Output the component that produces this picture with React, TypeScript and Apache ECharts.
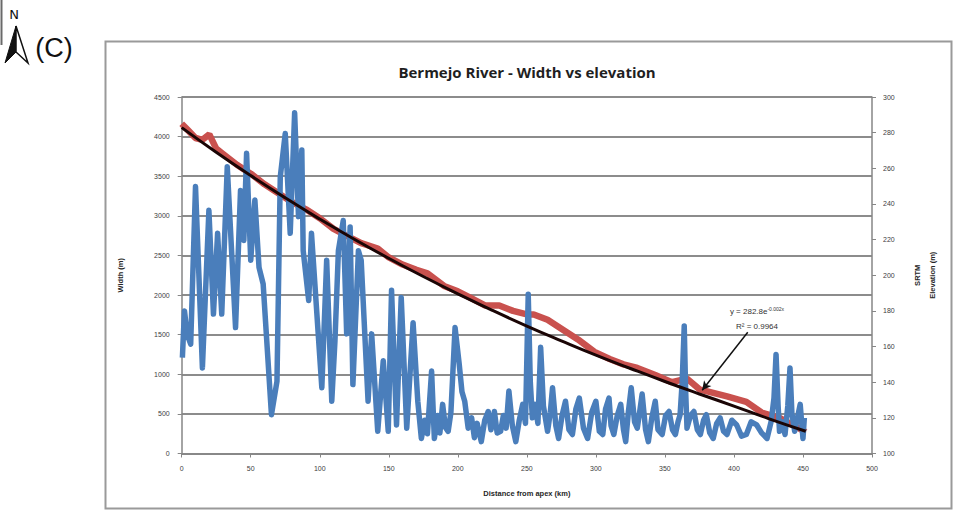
import React, { useEffect, useRef } from "react";
import * as echarts from "echarts";

// Width series (blue): [distance from apex (km), channel width (m)]
const widthPoints: number[][] = [
  [0.5, 1210], [2, 1800], [4, 1500], [6.5, 1380], [10, 3370], [15, 1080], [19.7, 3070], [23, 1760], [26, 2780], [29, 1760],
  [33, 3620], [39, 1590], [42.6, 3320], [45, 2690], [47, 3790], [50, 2440], [53, 3200], [56, 2350], [59, 2140], [65, 490],
  [69, 910], [71.4, 3490], [75, 4040], [78.6, 2780], [81.8, 4300], [84.6, 2990], [87, 3830], [88, 2560], [92, 1930], [94, 2780],
  [101.5, 830], [105, 2440], [108.7, 660], [111, 1420], [113.5, 2560], [117, 2940], [119.5, 1510], [122, 2860], [124, 870], [128, 2560],
  [130, 2440], [135, 660], [137.6, 1510], [142, 280], [146, 1170], [149.6, 280], [152, 2060], [155.6, 360], [159, 1970], [163, 320],
  [167.6, 1650], [171, 660], [173.6, 190], [176, 420], [178, 250], [181, 1040], [183, 190], [185.5, 480], [187, 260], [189, 620],
  [191, 330], [193, 280], [195, 520], [198, 1590], [201, 1130], [203, 780], [205, 660], [207.5, 320], [210, 450], [212, 200],
  [214, 380], [217, 150], [219.5, 420], [222, 530], [224, 300], [226.5, 530], [228.5, 260], [231, 280], [233, 480], [235, 320],
  [237, 790], [239.5, 350], [242, 150], [244.5, 420], [247, 620], [249, 380], [251, 2010], [252.5, 900], [254, 450], [256, 620],
  [258, 380], [260, 1340], [262, 600], [265, 280], [267, 520], [268.6, 830], [271, 350], [273, 190], [275.5, 480], [278, 660],
  [280.5, 300], [283, 240], [285.5, 560], [288, 700], [291, 320], [294, 190], [297, 520], [300, 660], [302.5, 280], [305, 240],
  [307, 560], [309.5, 700], [311, 350], [313, 240], [315.5, 480], [318, 620], [320, 300], [321.6, 150], [323.5, 520], [325.6, 830],
  [328, 400], [330, 320], [332, 560], [333.5, 750], [336, 300], [338, 150], [340.5, 450], [343, 660], [345, 300], [348, 240],
  [350.5, 480], [353, 530], [355.5, 300], [357.6, 240], [359.5, 400], [361, 490], [362.5, 900], [364, 1610], [365, 800], [366, 320],
  [368.5, 480], [371, 530], [373.5, 300], [375.7, 240], [378, 420], [380, 490], [382.5, 260], [385, 190], [387.5, 380], [390, 450],
  [392.5, 280], [395, 240], [398.5, 420], [402, 360], [405.5, 220], [409, 240], [412.5, 400], [416.5, 360], [420, 260], [424, 190],
  [427, 410], [429, 700], [430.5, 1250], [432, 600], [433, 280], [435, 400], [437, 240], [439, 600], [440.6, 1080], [442, 500],
  [444, 280], [446, 450], [448, 620], [450, 190], [451, 450],
];

// SRTM elevation series (red)
const elevKm = [0, 5, 10, 15, 20, 25, 30, 40, 50, 60, 70, 80, 90, 100, 110, 120, 130, 142, 150, 160, 170, 178, 190, 200, 210, 220, 230, 240, 250, 255, 265, 275, 287, 299, 310, 320, 330, 343, 355, 366, 375, 385, 395, 409, 420, 433, 445, 452];
const elevM = [285, 281, 277, 276, 279, 271, 268, 262, 257, 251, 246, 241, 237, 232, 226, 222, 218, 215, 210, 206, 203, 201, 194, 191, 187, 183, 183, 180, 178, 178, 175, 170, 164, 157, 153, 150, 148, 144, 140, 142, 136, 134, 132, 129, 123, 120, 115, 112];

// Exponential trend line (black)
const trendKm = [0, 25, 50, 75, 100, 125, 150, 175, 200, 225, 250, 275, 300, 325, 350, 375, 400, 425, 452];
const trendM = [282.8, 269, 255.9, 243.4, 231.5, 220.2, 209.5, 199.3, 189.6, 180.3, 171.5, 163.2, 155.2, 147.7, 140.4, 133.4, 126.6, 119.6, 112.5];

// Axis ticks
const xTicks = { min: 0, max: 500, interval: 50 };
const yLeftTicks = { min: 0, max: 4500, interval: 500 };
const yRightTicks = { min: 100, max: 300, interval: 20 };

const equationText = "282.8";
const r2Text = "R² = 0.9964";

export default function App() {
  const ref = useRef<HTMLDivElement>(null);
  useEffect(() => {
    document.body.style.margin = "0";
    const chart = echarts.init(ref.current!, null, { renderer: "svg" });
    const axisColor = "#868686";
    const labelStyle = { fontSize: 7, color: "#404040", fontFamily: "Liberation Sans", formatter: (v: number) => String(v) };
    const nameStyle = { fontSize: 7.5, color: "#262626", fontWeight: "bold" as const, fontFamily: "Liberation Sans" };
    const option: any = {
      animation: false,
      backgroundColor: "#ffffff",
      grid: { left: 181.7, right: 87, top: 97, bottom: 58.5 },
      xAxis: {
        type: "value",
        ...xTicks,
        name: "Distance from apex (km)",
        nameLocation: "middle",
        nameGap: 36,
        nameTextStyle: nameStyle,
        axisLine: { show: true, lineStyle: { color: axisColor, width: 1.5 } },
        axisTick: { show: true, length: 4, lineStyle: { color: axisColor } },
        axisLabel: { ...labelStyle, margin: 11 },
        splitLine: { show: false },
      },
      yAxis: [
        {
          type: "value",
          ...yLeftTicks,
          name: "Width (m)",
          nameLocation: "middle",
          nameGap: 57,
          nameRotate: 90,
          nameTextStyle: nameStyle,
          axisLine: { show: true, lineStyle: { color: axisColor, width: 1.5 } },
          axisTick: { show: true, length: 4, lineStyle: { color: axisColor } },
          axisLabel: { ...labelStyle, margin: 12 },
          splitLine: { show: true, lineStyle: { color: "#8c8c8c", width: 2 } },
        },
        {
          type: "value",
          position: "right",
          ...yRightTicks,
          name: "SRTM\nElevation (m)",
          nameLocation: "middle",
          nameGap: 38,
          nameRotate: 90,
          nameTextStyle: { ...nameStyle, lineHeight: 15 },
          axisLine: { show: true, lineStyle: { color: axisColor, width: 1.5 } },
          axisTick: { show: true, length: 4, lineStyle: { color: axisColor } },
          axisLabel: { ...labelStyle, margin: 11 },
          splitLine: { show: false },
        },
      ],
      series: [
        {
          type: "line",
          name: "SRTM elevation",
          yAxisIndex: 1,
          data: elevKm.map((k, i) => [k, elevM[i]]),
          showSymbol: false,
          lineStyle: { color: "#c9514e", width: 6.5 },
          z: 2,
        },
        {
          type: "line",
          name: "Width",
          yAxisIndex: 0,
          data: widthPoints,
          showSymbol: false,
          lineStyle: { color: "#4a7ebb", width: 5.5, join: "round" },
          z: 3,
        },
        {
          type: "line",
          name: "Trend",
          yAxisIndex: 1,
          data: trendKm.map((k, i) => [k, trendM[i]]),
          smooth: true,
          showSymbol: false,
          lineStyle: { color: "#1a0505", width: 3 },
          z: 4,
          markLine: {
            silent: true,
            symbol: ["none", "arrow"],
            symbolSize: [7, 9],
            label: { show: false },
            lineStyle: { color: "#111", width: 1.5, type: "solid" },
            data: [[{ coord: [410, 168] }, { coord: [377, 135.5] }]],
          },
        },
      ],
      graphic: [
        {
          type: "rect",
          shape: { x: 105.5, y: 41.5, width: 846, height: 467 },
          style: { fill: "none", stroke: "#9a9a9a", lineWidth: 2 },
          z: 0,
        },
        {
          type: "line",
          shape: { x1: 1.5, y1: 0, x2: 1.5, y2: 45 },
          style: { stroke: "#6a6a6a", lineWidth: 2 },
        },
        {
          type: "text",
          x: 527,
          y: 72,
          style: {
            text: "Bermejo River - Width vs elevation",
            fontSize: 15,
            fontWeight: "bold",
            fontFamily: "Open Sans",
            fill: "#1f1f1f",
            textAlign: "center",
            textVerticalAlign: "middle",
          },
        },
        {
          type: "text",
          x: 757,
          y: 311,
          style: {
            text: "{a|y = " + equationText + "e}{s|-0.002x}",
            rich: {
              a: { fontSize: 8, fill: "#333", fontFamily: "Liberation Sans" },
              s: { fontSize: 5, fill: "#333", fontFamily: "Liberation Sans", verticalAlign: "top", padding: [0, 0, 4, 0] },
            },
            textAlign: "center",
            textVerticalAlign: "middle",
          },
        },
        {
          type: "text",
          x: 757,
          y: 326,
          style: {
            text: r2Text,
            fontSize: 8,
            fill: "#333",
            fontFamily: "Liberation Sans",
            textAlign: "center",
            textVerticalAlign: "middle",
          },
        },
        {
          type: "text",
          x: 14,
          y: 14,
          style: { text: "N", fontSize: 13, fill: "#111", fontFamily: "DejaVu Sans", textAlign: "center", textVerticalAlign: "middle" },
        },
        {
          type: "polygon",
          shape: { points: [[16, 26], [5, 63], [16, 52]] },
          style: { fill: "#111", stroke: "#111", lineWidth: 1 },
        },
        {
          type: "polygon",
          shape: { points: [[16, 26], [28, 63], [16, 52]] },
          style: { fill: "#fff", stroke: "#111", lineWidth: 1.5 },
        },
        {
          type: "text",
          x: 54,
          y: 48,
          style: { text: "(C)", fontSize: 27, fill: "#111", fontFamily: "Liberation Sans", textAlign: "center", textVerticalAlign: "middle" },
        },
      ],
    };
    chart.setOption(option);
    return () => chart.dispose();
  }, []);
  return <div ref={ref} style={{ width: 959, height: 512 }} />;
}
